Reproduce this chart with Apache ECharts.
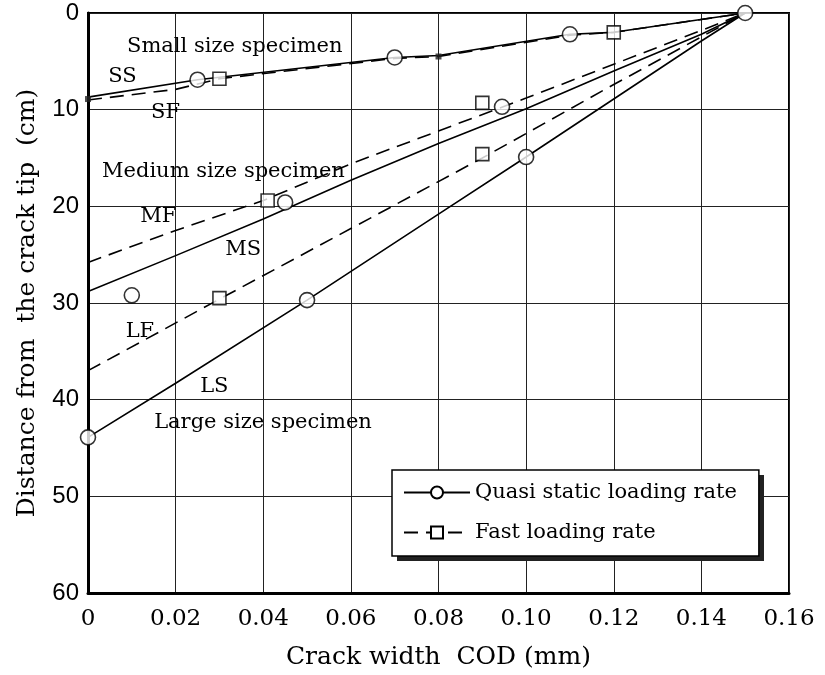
<!DOCTYPE html>
<html lang="en">
<head>
  <meta charset="UTF-8">
  <script src="https://cdn.jsdelivr.net/npm/echarts@6/dist/echarts.min.js"></script>
  <title>COD profile</title>
  <style>
    html, body { margin: 0; padding: 0; background: #fff; }
    .container { width: 825px; height: 675px; }
  </style>
</head>
<body>
  <div class="container"></div>
  <script>
    // fitted lines, [COD mm, distance cm]
    const lineSS = [[0, 8.7], [0.025, 6.9], [0.07, 4.6], [0.08, 4.4], [0.11, 2.2], [0.12, 2.0], [0.15, 0]];
    const lineSF = [[0, 9.0], [0.02, 7.9], [0.03, 6.8], [0.07, 4.7], [0.08, 4.5], [0.11, 2.3], [0.12, 2.0], [0.15, 0]];
    const lineMS = [[0, 28.8], [0.02, 25.1], [0.04, 21.3], [0.06, 17.3], [0.08, 13.5], [0.10, 9.9], [0.12, 6.0], [0.14, 2.2], [0.15, 0]];
    const lineMF = [[0, 25.8], [0.02, 22.5], [0.04, 19.4], [0.06, 15.6], [0.08, 12.2], [0.10, 8.8], [0.12, 5.3], [0.14, 1.8], [0.15, 0]];
    const lineLS = [[0, 43.9], [0.02, 38.3], [0.05, 29.7], [0.08, 20.8], [0.10, 14.9], [0.12, 8.9], [0.14, 2.9], [0.15, 0]];
    const lineLF = [[0, 37.0], [0.03, 29.6], [0.06, 22.3], [0.09, 15.0], [0.12, 7.4], [0.15, 0]];

    // measured points
    const quasiPts = [[0.025, 6.9], [0.07, 4.6], [0.11, 2.2], [0.15, 0], [0.0945, 9.7], [0.10, 14.9],
      [0.045, 19.6], [0.01, 29.2], [0.05, 29.7], [0, 43.9]];
    const fastPts = [[0.03, 6.8], [0.12, 2.0], [0.09, 9.3], [0.09, 14.6], [0.041, 19.4], [0.03, 29.5]];
    const fastSmall = [[0, 8.9], [0.08, 4.5]];

    // annotations: [x, y, text]
    const notes = [
      [0.0089, 3.5, 'Small size specimen'],
      [0.0046, 6.6, 'SS'],
      [0.0144, 10.3, 'SF'],
      [0.0032, 16.4, 'Medium size specimen'],
      [0.0119, 21.1, 'MF'],
      [0.0313, 24.5, 'MS'],
      [0.0086, 33.0, 'LF'],
      [0.0256, 38.6, 'LS'],
      [0.0151, 42.4, 'Large size specimen']
    ];

    const serif = 'DejaVu Serif';
    const solid = { color: '#000', width: 1.6, type: 'solid' };
    const dashed = { color: '#000', width: 1.6, type: [14, 8] };

    const lineSeries = (name, data, style, symbol) => ({
      name: name,
      type: 'line',
      data: data,
      symbol: symbol,
      showSymbol: false,
      symbolSize: 12,
      lineStyle: style,
      itemStyle: { color: '#000', borderColor: '#000', borderWidth: 1.5 },
      silent: true,
      z: 2
    });

    const chart = echarts.init(document.querySelector('.container'));
    chart.setOption({
      animation: false,
      grid: {
        left: 88, right: 36, top: 13, bottom: 82,
        show: true, borderColor: '#000', borderWidth: 2
      },
      // drop shadow behind the legend box
      graphic: [{
        type: 'rect',
        left: 397, top: 475,
        shape: { width: 367, height: 86 },
        style: { fill: '#222' },
        z: 10
      }],
      legend: {
        data: ['Quasi static loading rate', 'Fast loading rate'],
        orient: 'vertical',
        left: 392,
        top: 470,
        padding: [12, 22, 13, 11],
        itemGap: 19,
        itemWidth: 66,
        itemHeight: 15,
        backgroundColor: '#fff',
        borderColor: '#000',
        borderWidth: 1.5,
        selectedMode: false,
        z: 12,
        textStyle: { fontFamily: serif, fontSize: 21, color: '#000' }
      },
      xAxis: {
        type: 'value',
        min: 0, max: 0.16, interval: 0.02,
        name: 'Crack width  COD (mm)',
        nameLocation: 'middle',
        nameGap: 52,
        nameTextStyle: { fontFamily: serif, fontSize: 25, color: '#000' },
        axisLine: { onZero: false, lineStyle: { color: '#000', width: 3 } },
        axisTick: { show: false },
        splitLine: { lineStyle: { color: '#222', width: 1 } },
        axisLabel: {
          margin: 15,
          fontFamily: serif, fontSize: 23, color: '#000',
          formatter: (v) => v === 0 ? '0' : v.toFixed(2)
        }
      },
      yAxis: {
        type: 'value',
        inverse: true,
        min: 0, max: 60, interval: 10,
        name: 'Distance from  the crack tip  (cm)',
        nameLocation: 'middle',
        nameGap: 48,
        nameTextStyle: { fontFamily: serif, fontSize: 25, color: '#000' },
        axisLine: { lineStyle: { color: '#000', width: 3 } },
        axisTick: { show: false },
        splitLine: { lineStyle: { color: '#222', width: 1 } },
        axisLabel: { margin: 9, fontFamily: 'Liberation Sans', fontSize: 24, color: '#000' }
      },
      series: [
        lineSeries('Quasi static loading rate', lineSS, solid, 'emptyCircle'),
        lineSeries('Fast loading rate', lineSF, dashed, 'emptyRect'),
        lineSeries('MS', lineMS, solid, 'none'),
        lineSeries('MF', lineMF, dashed, 'none'),
        lineSeries('LS', lineLS, solid, 'none'),
        lineSeries('LF', lineLF, dashed, 'none'),
        {
          name: 'quasi points',
          type: 'scatter',
          data: quasiPts,
          symbol: 'circle',
          symbolSize: 15,
          itemStyle: { color: '#fff', borderColor: '#000', borderWidth: 1.6 },
          silent: true,
          z: 4
        },
        {
          name: 'fast points',
          type: 'scatter',
          data: fastPts,
          symbol: 'rect',
          symbolSize: 13,
          itemStyle: { color: '#fff', borderColor: '#000', borderWidth: 1.6 },
          silent: true,
          z: 4
        },
        {
          name: 'fast small',
          type: 'scatter',
          data: fastSmall,
          symbol: 'rect',
          symbolSize: 6,
          itemStyle: { color: '#222' },
          silent: true,
          z: 4
        },
        {
          name: 'notes',
          type: 'scatter',
          data: notes,
          symbolSize: 0,
          silent: true,
          z: 5,
          itemStyle: { opacity: 1 },
          label: {
            show: true,
            position: 'right',
            distance: 0,
            opacity: 1,
            formatter: (p) => p.data[2],
            fontFamily: serif,
            fontSize: 21,
            color: '#000'
          }
        }
      ]
    });
  </script>
</body>
</html>
